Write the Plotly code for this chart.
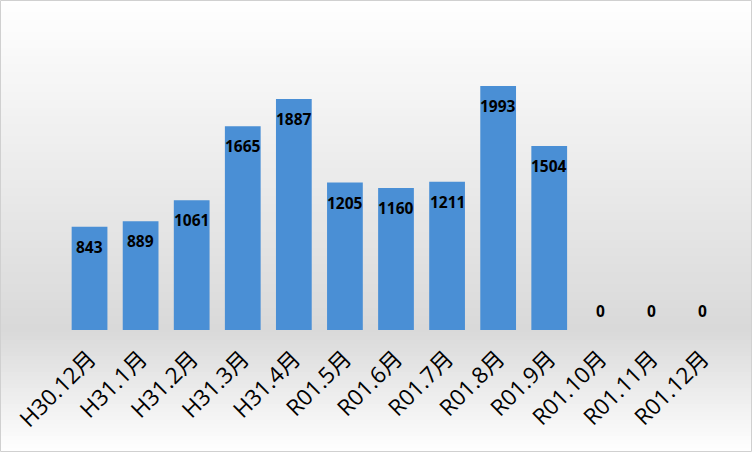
import plotly.graph_objects as go

categories = ["H30.12月", "H31.1月", "H31.2月", "H31.3月", "H31.4月", "R01.5月", "R01.6月",
              "R01.7月", "R01.8月", "R01.9月", "R01.10月", "R01.11月", "R01.12月"]
values = [843, 889, 1061, 1665, 1887, 1205, 1160, 1211, 1993, 1504, 0, 0, 0]

W, H = 752, 452
ML, MR, MT, MB = 64, 24, 24, 122
PW, PH = W - ML - MR, H - MT - MB

def px_to_paper_y(py):
    return (H - MB - py) / PH

def px_to_paper_x(px):
    return (px - ML) / PW

fig = go.Figure()
fig.add_trace(go.Bar(
    x=categories, y=values,
    marker=dict(color="#4a8fd5", line=dict(width=0)),
    hoverinfo="x+y",
))

# background vertical gradient: white -> grey (at plot bottom) -> white
shapes = []
step = 4
for py in range(0, H, step):
    mid = py + step / 2
    base_y = H - MB
    if mid <= base_y:
        t = mid / base_y
        v = 255 - t * (255 - 217)
    else:
        t = (mid - base_y) / (H - base_y)
        v = 217 + t * (255 - 217)
    c = int(round(v))
    shapes.append(dict(
        type="rect", xref="paper", yref="paper", layer="below",
        x0=px_to_paper_x(0), x1=px_to_paper_x(W),
        y0=px_to_paper_y(py + step), y1=px_to_paper_y(py),
        fillcolor=f"rgb({c},{c},{c})", line=dict(width=0),
    ))
# outer border
shapes.append(dict(
    type="rect", xref="paper", yref="paper", layer="above",
    x0=px_to_paper_x(0.5), x1=px_to_paper_x(W - 0.5),
    y0=px_to_paper_y(H - 0.5), y1=px_to_paper_y(0.5),
    line=dict(color="#d0d0d0", width=1), fillcolor="rgba(0,0,0,0)",
))

annotations = []
for c, v in zip(categories, values):
    annotations.append(dict(
        x=c, y=v, xref="x", yref="y", text=str(v), showarrow=False,
        yshift=-20 if v > 0 else 19,
        font=dict(family="Noto Sans, DejaVu Sans, sans-serif", size=15.5, color="black", weight="bold"),
    ))

fig.update_layout(
    width=W, height=H,
    margin=dict(l=ML, r=MR, t=MT, b=MB),
    paper_bgcolor="white", plot_bgcolor="rgba(0,0,0,0)",
    bargap=0.3, showlegend=False,
    shapes=shapes, annotations=annotations,
    xaxis=dict(
        tickangle=-45, showgrid=False, showline=False, ticks="",
        tickfont=dict(family="Open Sans, Noto Sans CJK JP, sans-serif", size=22.5, color="black"),
        ticklabelstandoff=10,
        fixedrange=True,
    ),
    yaxis=dict(range=[0, 2500], visible=False, fixedrange=True),
)

fig.write_html("out.html", config={"displayModeBar": False},
               post_script="document.body.style.margin='0';document.body.style.overflow='hidden';")
